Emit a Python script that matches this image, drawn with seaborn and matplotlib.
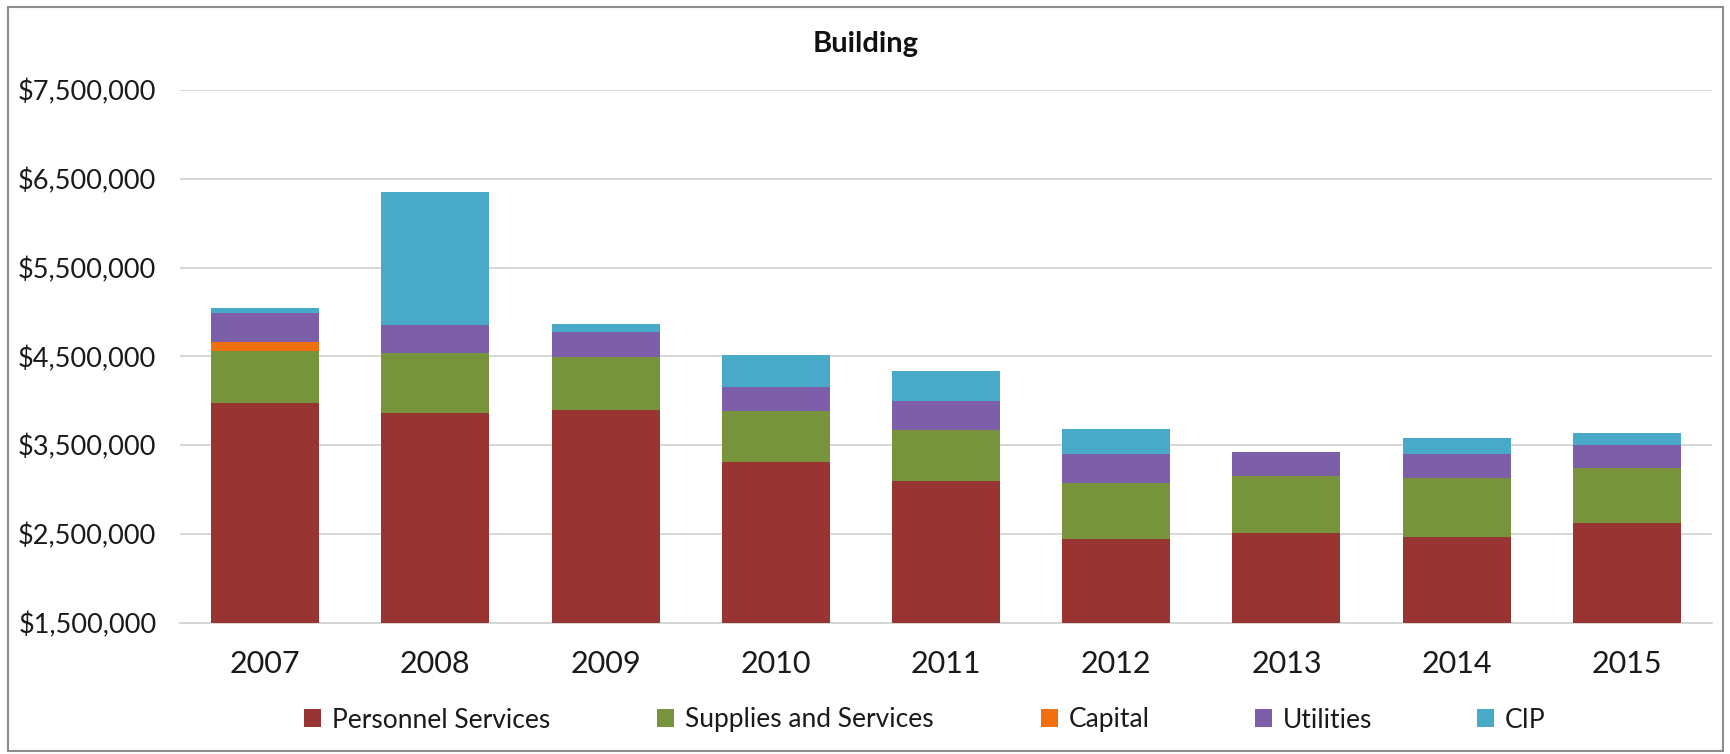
import matplotlib
matplotlib.use("Agg")
import matplotlib.pyplot as plt
from matplotlib.patches import Rectangle, Patch
from matplotlib.ticker import FuncFormatter
import numpy as np
import pandas as pd
import seaborn as sns

# Annual spending by category (dollars)
years = ["2007", "2008", "2009", "2010", "2011", "2012", "2013", "2014", "2015"]
personnel = [3970000, 3864000, 3890000, 3312000, 3094000, 2437000, 2505000, 2460000, 2618000]
supplies = [590000, 676000, 598000, 575000, 575000, 631000, 646000, 665000, 626000]
capital = [105000, 0, 0, 0, 0, 0, 0, 0, 0]
utilities = [325000, 312000, 280000, 270000, 330000, 331000, 274000, 274000, 256000]
cip = [50000, 1502000, 101000, 357000, 335000, 281000, 0, 183000, 132000]

series_names = ["Personnel Services", "Supplies and Services", "Capital", "Utilities", "CIP"]
series_colors = ["#983533", "#77933C", "#F0700F", "#7D5EA8", "#48AAC6"]
y_ticks = [1500000, 2500000, 3500000, 4500000, 5500000, 6500000, 7500000]

sns.set_theme(style="white")
plt.rcParams["font.family"] = ["Lato", "DejaVu Sans"]

W, H = 1731, 754

df = pd.DataFrame({
    "year": years,
    "Personnel Services": personnel,
    "Supplies and Services": supplies,
    "Capital": capital,
    "Utilities": utilities,
    "CIP": cip,
})

fig = plt.figure(figsize=(W / 100, H / 100), dpi=100)
ax = fig.add_axes([180 / W, 1 - 622.5 / H, (1712 - 180) / W, (622.5 - 90) / H])

# Stacked bars: draw running totals from the top layer down so each layer overlays the next
cum = df[series_names].cumsum(axis=1)
for name, color in zip(series_names[::-1], series_colors[::-1]):
    sns.barplot(x=df["year"], y=cum[name], color=color, width=0.635,
                saturation=1, ax=ax, order=years, zorder=3,
                linewidth=0, edgecolor="none")

ax.set_ylim(y_ticks[0], y_ticks[-1])
ax.set_yticks(y_ticks)
ax.yaxis.set_major_formatter(FuncFormatter(lambda v, p: f"${v:,.0f}"))
ax.grid(axis="y", color="#D4D4D4", linewidth=1.3, zorder=0)
ax.set_axisbelow(True)
for s in ["top", "right", "left"]:
    ax.spines[s].set_visible(False)
ax.spines["bottom"].set_color("#D4D4D4")
ax.spines["bottom"].set_linewidth(1.3)
ax.set_xlabel("")
ax.set_ylabel("")
ax.tick_params(axis="y", length=0, pad=17, labelsize=19.5, labelcolor="#1A1A1A")
ax.tick_params(axis="x", length=0, pad=20, labelsize=22, labelcolor="#1A1A1A")

fig.text(0.5, 1 - 44 / H, "Building", ha="center", va="center",
         fontsize=21, fontweight="bold", color="#111111")

# Legend entries laid out in a single row below the axis
legend_x = [304, 657, 1041, 1255, 1477]
for name, color, lx in zip(series_names, series_colors, legend_x):
    fig.legend([Patch(facecolor=color, edgecolor="none")], [name],
               loc="center left", bbox_to_anchor=(lx / W, 1 - 720 / H),
               frameon=False, fontsize=19, handlelength=0.65, handleheight=0.65,
               handletextpad=0.4, borderpad=0, borderaxespad=0,
               labelcolor="#1A1A1A")

# Outer chart frame
fig.patches.append(Rectangle((8 / W, 3 / H), 1715 / W, 744 / H,
                             transform=fig.transFigure, fill=False,
                             edgecolor="#8C8C8C", linewidth=1.5))

fig.savefig("out.png", dpi=100, facecolor="white")
